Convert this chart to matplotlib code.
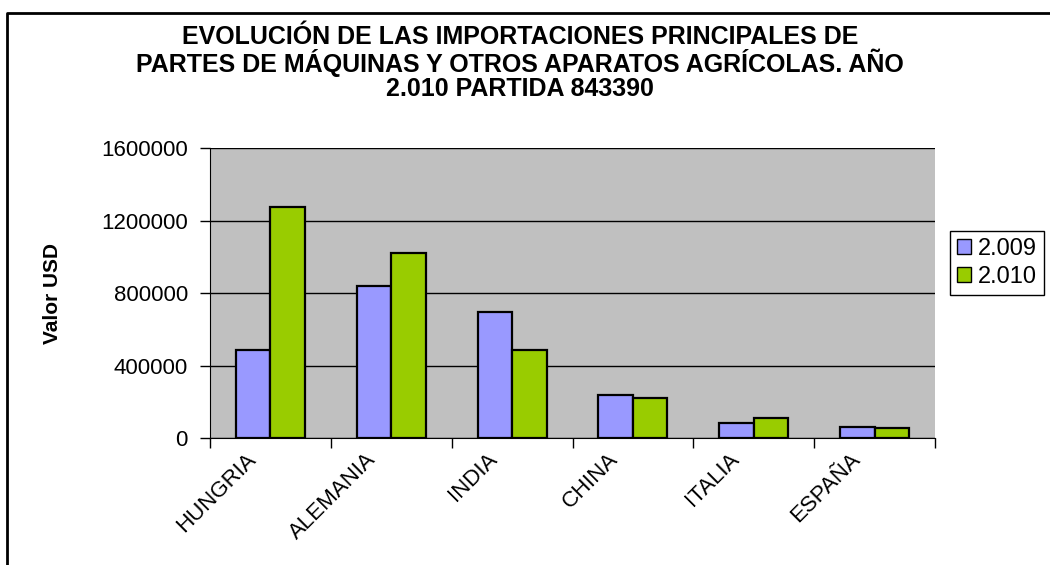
import numpy as np
import matplotlib.pyplot as plt
import matplotlib.transforms as mtransforms
from matplotlib.patches import Patch
from matplotlib.lines import Line2D

plt.rcParams['font.family'] = ['Liberation Sans', 'DejaVu Sans']

# data
paises = ["HUNGRIA", "ALEMANIA", "INDIA", "CHINA", "ITALIA", "ESPAÑA"]
anios = ["2.009", "2.010"]
valores_2009 = [487000, 840000, 697000, 239000, 83000, 64000]
valores_2010 = [1278000, 1021000, 487000, 224000, 110000, 55000]
yticks = [0, 400000, 800000, 1200000, 1600000]

titulo = ("EVOLUCIÓN DE LAS IMPORTACIONES PRINCIPALES DE\n"
          "PARTES DE MÁQUINAS Y OTROS APARATOS AGRÍCOLAS. AÑO\n"
          "2.010 PARTIDA 843390")

color_2009 = "#9999FF"
color_2010 = "#99CC00"

fig = plt.figure(figsize=(10.5, 5.65), dpi=100)
ax = fig.add_axes([0.2, 0.2243, 0.6905, 0.5133])
ax.set_facecolor("#C0C0C0")

x = np.arange(len(paises)) + 0.5
w = 0.2857
ax.bar(x - w / 2, valores_2009, w, color=color_2009, edgecolor="black", linewidth=1.6, zorder=3)
ax.bar(x + w / 2, valores_2010, w, color=color_2010, edgecolor="black", linewidth=1.6, zorder=3)

ax.set_xlim(0, len(paises))
ax.set_ylim(0, 1600000)
ax.set_yticks(yticks)
ax.set_yticklabels([str(v) for v in yticks], fontsize=16)
ax.yaxis.grid(True, color="black", linewidth=1)
ax.set_axisbelow(True)

ax.set_xticks(np.arange(len(paises) + 1))
ax.set_xticklabels([])
ax.tick_params(axis="both", direction="out", length=7, width=1, color="black")
ax.tick_params(axis="y", pad=9)

for s in ["top", "right"]:
    ax.spines[s].set_visible(False)
ax.spines["left"].set_color("black")
ax.spines["bottom"].set_color("black")

# rotated category labels
trans = mtransforms.blended_transform_factory(ax.transData, ax.transAxes)
off = mtransforms.ScaledTranslation(-18 / 100, -18 / 100, fig.dpi_scale_trans)
for xi, p in zip(x, paises):
    ax.text(xi, 0, p, transform=trans + off, rotation=45, rotation_mode="anchor",
            ha="right", va="center", fontsize=16)

fig.text(0.495, 1 - 25 / 565, titulo, ha="center", va="top", fontsize=18,
         fontweight="bold", linespacing=1.0)
fig.text(53 / 1050, 1 - 293 / 565, "Valor USD", rotation=90, ha="center", va="center",
         fontsize=15, fontweight="bold")

handles = [Patch(facecolor=color_2009, edgecolor="black"),
           Patch(facecolor=color_2010, edgecolor="black")]
leg = fig.legend(handles, anios, loc="upper left", bbox_to_anchor=(950 / 1050, 1 - 231 / 565),
                 fontsize=17, fancybox=False, edgecolor="black", framealpha=1,
                 handlelength=0.6, handleheight=0.6, handletextpad=0.3,
                 borderpad=0.3, labelspacing=0.25, borderaxespad=0)
leg.get_frame().set_linewidth(1)

# outer chart border (cut off at right and bottom)
fig.add_artist(Line2D([7 / 1050, 7 / 1050, 1], [0, 1 - 12.5 / 565, 1 - 12.5 / 565],
                      color="black", linewidth=2, transform=fig.transFigure))

fig.savefig("out.png", dpi=100)
